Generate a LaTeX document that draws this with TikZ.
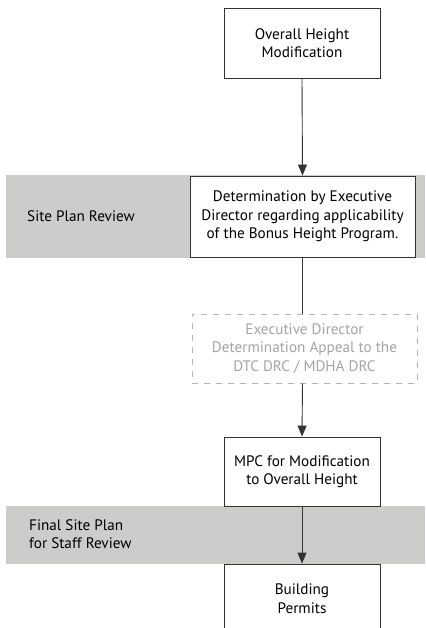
\documentclass[tikz,border=0pt]{standalone}
\usepackage{fontspec}
\setmainfont{PT Sans}
\usetikzlibrary{arrows.meta}
\definecolor{band}{HTML}{CCCCCB}
\definecolor{lineC}{HTML}{333333}
\definecolor{dashC}{HTML}{B4B4B4}
\definecolor{dashT}{HTML}{A4A4A4}
\tikzset{
  box/.style={draw=lineC, line width=0.9pt, fill=white, align=center, inner sep=0pt},
  dbox/.style={draw=dashC, line width=0.9pt, dash pattern=on 6pt off 6pt, fill=white, align=center, inner sep=0pt, text=dashT},
  conn/.style={draw=lineC, line width=0.9pt},
  arr/.style={conn, -{Triangle[length=11pt,width=9pt]}},
  bandlabel/.style={anchor=west, align=left, inner sep=0pt},
  every node/.style={font=\fontsize{15.2}{18.6}\selectfont}
}
\begin{document}
\begin{tikzpicture}[x=1pt,y=-1pt]
\useasboundingbox (0,0) rectangle (425,628);
\clip (0,0) rectangle (425,628);
% bands
\fill[band] (6,175) rectangle (425,258);
\fill[band] (6,506) rectangle (425,564);
\node[bandlabel] (l1) at (27,216) {Site Plan Review};
\node[bandlabel] (l2) at (29,534) {Final Site Plan\\for Staff Review};
% boxes
\node[box, minimum width=156pt, minimum height=70pt] (b1) at (302,43) {Overall Height\\Modification};
\node[box, minimum width=225pt, minimum height=81pt] (b2) at (302.5,216.5) {Determination by Executive\\Director regarding applicability\\of the Bonus Height Program.};
\node[dbox, minimum width=225pt, minimum height=69pt] (b3) at (304.5,348.5) {Executive Director\\Determination Appeal to the\\DTC DRC / MDHA DRC};
\node[box, minimum width=156pt, minimum height=69pt] (b4) at (302,471.5) {MPC for Modification\\to Overall Height};
\node[box, minimum width=156pt, minimum height=70pt] (b5) at (302,599) {Building\\Permits};
% connectors
\draw[arr] (b1.south) -- (b2.north);
\draw[conn] (b2.south) -- (b2.south |- b3.north);
\draw[arr] (b2.south |- b3.south) -- (b4.north);
\draw[arr] (b4.south) -- (b5.north);
\end{tikzpicture}
\end{document}
